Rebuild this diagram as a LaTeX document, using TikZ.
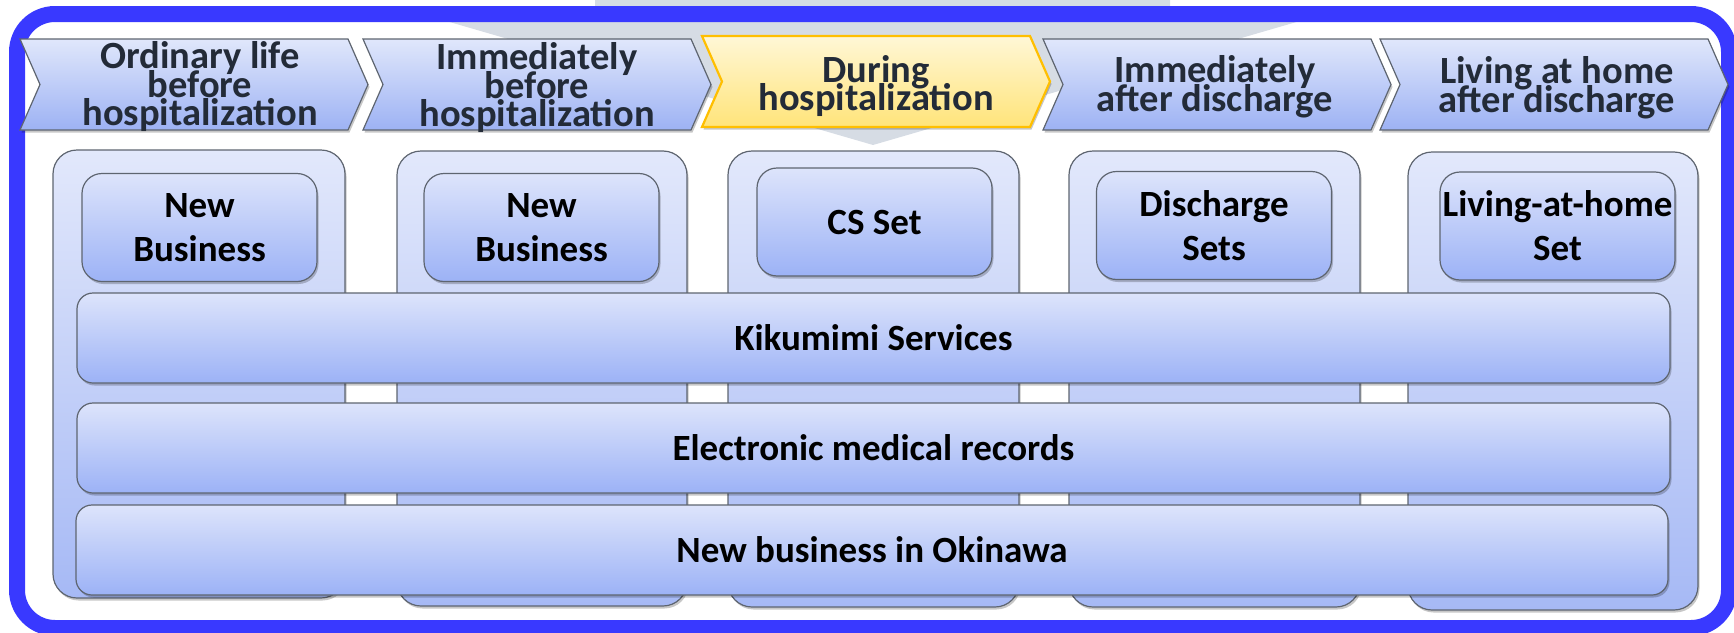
\documentclass[tikz,border=0pt]{standalone}
\usepackage{fontspec}
\setmainfont{Carlito}
\usepackage{xcolor}
\usepackage{tikz}
\usetikzlibrary{shadows}
\setlength{\lineskiplimit}{-60pt}

\definecolor{frameblue}{HTML}{3939FF}
\definecolor{arrowgray}{HTML}{D6DCE4}
\definecolor{edgegray}{HTML}{5E6570}
\definecolor{chevtop}{HTML}{E0E7FB}
\definecolor{chevbot}{HTML}{9DB2F4}
\definecolor{hitop}{HTML}{FFF7D6}
\definecolor{hibot}{HTML}{FFE47A}
\definecolor{hiedge}{HTML}{FFBF00}
\definecolor{coltop}{HTML}{E2E8FB}
\definecolor{colbot}{HTML}{A6B9F5}
\definecolor{boxtop}{HTML}{DDE4FB}
\definecolor{boxbot}{HTML}{9CB2F6}
\definecolor{headink}{HTML}{232B38}

\begin{document}
\begin{tikzpicture}[x=1pt, y=-1pt,
    softshadow/.style={drop shadow={shadow xshift=1.5pt, shadow yshift=-2.5pt, opacity=0.22, fill=black}},
    chev/.style={draw=edgegray, line width=1.2pt, top color=chevtop, bottom color=chevbot, softshadow},
    chevhi/.style={draw=hiedge, line width=2.2pt, top color=hitop, bottom color=hibot, softshadow},
    headtext/.style={align=center, text=headink, inner sep=0pt,
        font=\fontsize{38.5}{28.5}\selectfont\bfseries},
    colbox/.style={draw=edgegray, line width=1.2pt, rounded corners=24pt, top color=coltop, bottom color=colbot,
        inner sep=0pt, outer sep=0pt, softshadow},
    setbox/.style={draw=edgegray, line width=1.2pt, rounded corners=20pt, top color=boxtop, bottom color=boxbot,
        minimum width=235pt, minimum height=108pt, inner sep=0pt, outer sep=0pt, align=center,
        font=\fontsize{37}{44}\selectfont\bfseries, softshadow},
    barbox/.style={draw=edgegray, line width=1.2pt, rounded corners=16pt, top color=boxtop, bottom color=boxbot,
        minimum width=1593pt, minimum height=90pt, inner sep=0pt, outer sep=0pt,
        font=\fontsize{37}{44}\selectfont\bfseries, softshadow}]
    \useasboundingbox (0,0) rectangle (1734,632);

    % big gray arrow behind the phases
    \fill[arrowgray] (595,-10) -- (1170,-10) -- (1170,14) -- (1324,14) -- (873,145) -- (422,14) -- (595,14) -- cycle;

    % frame
    \draw[frameblue, line width=16pt, rounded corners=38pt] (17,14) rectangle (1729,628);

    % phase chevrons
    \foreach \x in {20,363,1043,1380}
        \draw[chev] (\x,39) -- ++(328,0) -- ++(20,45.5) -- ++(-20,45.5) -- ++(-328,0) -- ++(20,-45.5) -- cycle;
    \draw[chevhi] (702,36) -- ++(328,0) -- ++(20,45.5) -- ++(-20,45.5) -- ++(-328,0) -- ++(20,-45.5) -- cycle;

    \node[headtext] (before) at (200,87) {Ordinary life\\before\\hospitalization};
    \node[headtext] (justbefore) at (537,88) {Immediately\\before\\hospitalization};
    \node[headtext] (during) at (876,86) {During\\hospitalization};
    \node[headtext] (justafter) at (1215,87) {Immediately\\after discharge};
    \node[headtext] (athome) at (1557,88) {Living at home\\after discharge};

    % columns
    \node[colbox, minimum width=292pt, minimum height=448pt] (col1) at (199,374) {};
    \node[colbox, minimum width=290pt, minimum height=455pt] (col2) at (542,378.5) {};
    \node[colbox, minimum width=291pt, minimum height=456pt] (col3) at (873.5,379) {};
    \node[colbox, minimum width=291pt, minimum height=456pt] (col4) at (1214.5,379) {};
    \node[colbox, minimum width=290pt, minimum height=458pt] (col5) at (1553,381) {};

    % sets per phase
    \node[setbox] (newbiz1) at (199.5,227.5) {New\\Business};
    \node[setbox] (newbiz2) at (541.5,227.5) {New\\Business};
    \node[setbox] (csset) at (874.5,222) {CS Set};
    \node[setbox] (dischset) at (1214,225.5) {Discharge\\Sets};
    \node[setbox] (homeset) at (1557.5,226) {Living-at-home\\Set};

    % services across all phases
    \node[barbox] (kikumimi) at (873.5,338) {Kikumimi Services};
    \node[barbox] (records) at (873.5,448) {Electronic medical records};
    \node[barbox, minimum width=1592pt] (okinawa) at (872,550) {New business in Okinawa};
\end{tikzpicture}
\end{document}
